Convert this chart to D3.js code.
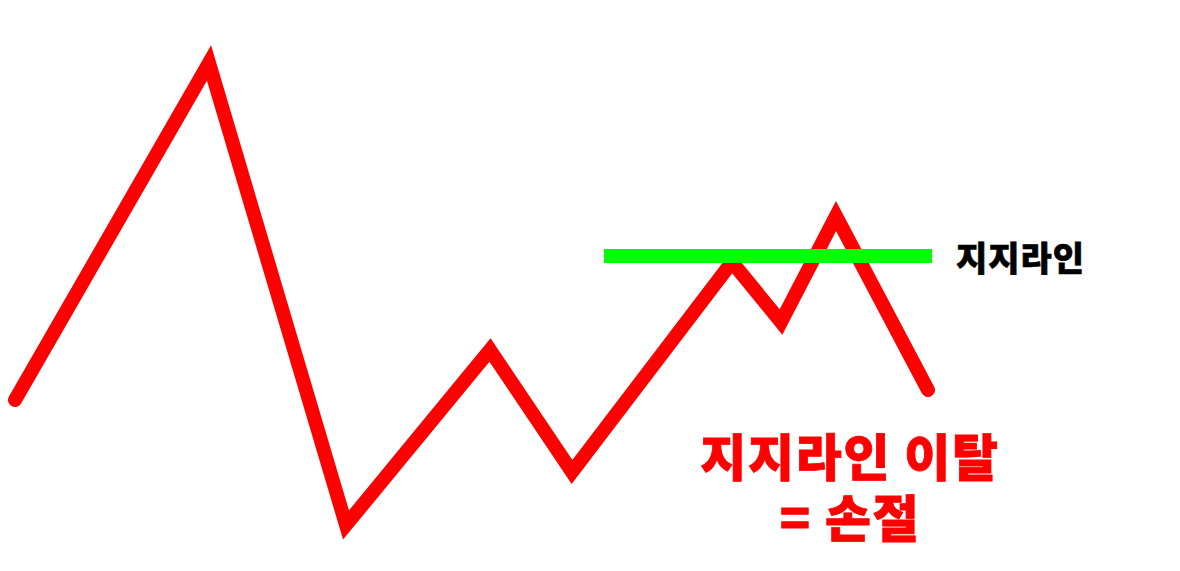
<!DOCTYPE html>
<html><head><meta charset="utf-8">
<script src="https://cdn.jsdelivr.net/npm/d3@7"></script>
<style>html,body{margin:0;padding:0;background:#fff;overflow:hidden}</style>
</head><body>
<svg id="c" width="1180" height="571"></svg>
<script>
// data: time positions and price values
const times  = [15, 209, 346, 490, 572, 732, 781, 836, 928];
const prices = [171, 508, 46, 221, 99, 309, 249, 355, 181];
const supportLevel = 315;
const supportRange = [604, 932];
const supportLabel = "지지라인";
const breakLabel = ["지지라인 이탈", "= 손절"];

const W = 1180, H = 571;
const x = d3.scaleLinear().domain([0, 1180]).range([0, W]);
const y = d3.scaleLinear().domain([0, 571]).range([H, 0]);
const svg = d3.select("#c");
const font = "'Noto Sans CJK KR', 'Noto Sans', sans-serif";

const pts = times.map((t, i) => [t, prices[i]]);
svg.append("path")
  .datum(pts)
  .attr("d", d3.line().x(d => x(d[0])).y(d => y(d[1])))
  .attr("fill", "none")
  .attr("stroke", "#ff0000")
  .attr("stroke-width", 14)
  .attr("stroke-linejoin", "miter")
  .attr("stroke-miterlimit", 10)
  .attr("stroke-linecap", "round");

svg.append("line")
  .attr("x1", x(supportRange[0])).attr("x2", x(supportRange[1]))
  .attr("y1", y(supportLevel)).attr("y2", y(supportLevel))
  .attr("stroke", "#00ff00").attr("stroke-width", 14);

svg.append("text")
  .attr("x", 956).attr("y", y(supportLevel))
  .attr("dominant-baseline", "central")
  .attr("font-family", font).attr("font-weight", 900)
  .attr("font-size", 34).attr("letter-spacing", 1).attr("fill", "#000")
  .attr("stroke", "#000").attr("stroke-width", 0.6)
  .text(supportLabel);

const brk = svg.append("text")
  .attr("text-anchor", "middle")
  .attr("font-family", font).attr("font-weight", 900)
  .attr("font-size", 50).attr("letter-spacing", 1.7).attr("fill", "#ff0000")
  .attr("stroke", "#ff0000").attr("stroke-width", 0.8);
brk.selectAll("tspan").data(breakLabel).join("tspan")
  .attr("x", 850)
  .attr("y", (d, i) => 476 + i * 61)
  .text(d => d);
</script>
</body></html>
